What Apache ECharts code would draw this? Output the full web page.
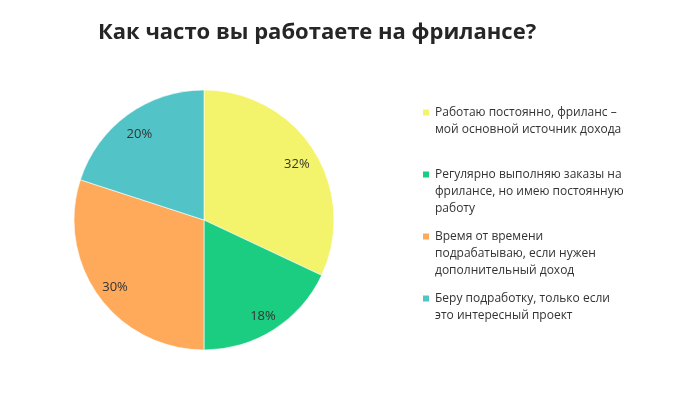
<!DOCTYPE html>
<html>
<head>
<meta charset="utf-8">
<script src="https://cdn.jsdelivr.net/npm/echarts@6/dist/echarts.min.js"></script>
<style>
  html, body { margin: 0; padding: 0; background: #fff; }
  #chart { width: 680px; height: 397px; }
</style>
</head>
<body>
<div id="chart"></div>
<script>
  // категории ответов
  var names = [
    'Работаю постоянно, фриланс – мой основной источник дохода',
    'Регулярно выполняю заказы на фрилансе, но имею постоянную работу',
    'Время от времени подрабатываю, если нужен дополнительный доход',
    'Беру подработку, только если это интересный проект'
  ]
  // как подписи переносятся в легенде
  var legendLines = [
    ['Работаю постоянно, фриланс –', 'мой основной источник дохода', ''],
    ['Регулярно выполняю заказы на', 'фрилансе, но имею постоянную', 'работу'],
    ['Время от времени', 'подрабатываю, если нужен', 'дополнительный доход'],
    ['Беру подработку, только если', 'это интересный проект', '']
  ]
  // проценты
  var values = [32, 18, 30, 20]
  var colors = ['#F4F46C', '#1ACD80', '#FEAA5A', '#52C4C8']

  var pieData = names.map(function (n, i) {
    return {name: n, value: values[i], itemStyle: {color: colors[i]}}
  })

  var chart = echarts.init(document.getElementById('chart'))
  chart.setOption({
    animation: false,
    title: {
      text: 'Как часто вы работаете на фрилансе?',
      left: 93,
      top: 17,
      textStyle: {
        fontFamily: 'Open Sans',
        fontWeight: 'bold',
        fontSize: 22,
        color: '#262626'
      }
    },
    legend: {
      orient: 'vertical',
      left: 421,
      top: 70,
      padding: 0,
      itemWidth: 8,
      itemHeight: 8,
      itemGap: -23,
      icon: 'rect',
      selectedMode: false,
      data: names,
      // две пустые строки сверху, чтобы значок стоял у первой строки
      formatter: function (name) {
        return ['', ''].concat(legendLines[names.indexOf(name)]).join('\n')
      },
      textStyle: {
        fontFamily: 'Open Sans',
        fontSize: 12,
        lineHeight: 17,
        color: '#333'
      }
    },
    series: [
      {
        // сам круг
        type: 'pie',
        center: [204, 220],
        radius: 130,
        startAngle: 90,
        silent: true,
        label: {show: false},
        labelLine: {show: false},
        itemStyle: {borderColor: '#fff', borderWidth: 0.6},
        data: pieData
      },
      {
        // прозрачное кольцо только для подписей ближе к краю
        type: 'pie',
        center: [204, 223],
        radius: [84, 130],
        startAngle: 90,
        silent: true,
        itemStyle: {color: 'rgba(0,0,0,0)'},
        label: {
          show: true,
          position: 'inside',
          formatter: '{c}%',
          fontFamily: 'Open Sans',
          fontSize: 13,
          color: '#333'
        },
        labelLine: {show: false},
        data: names.map(function (n, i) { return {name: n, value: values[i]} })
      }
    ]
  })
</script>
</body>
</html>
